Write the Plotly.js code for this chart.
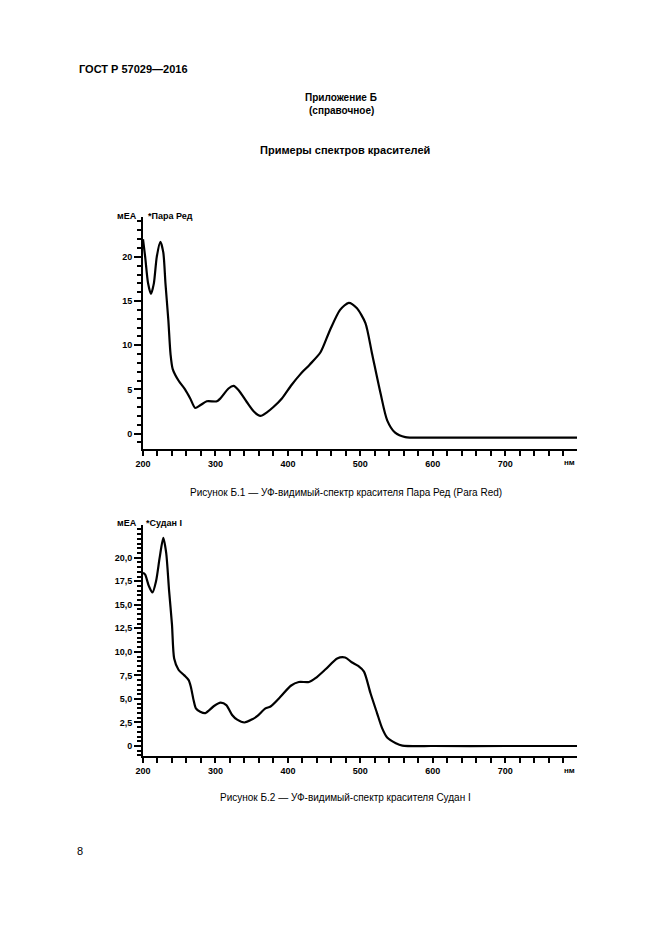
<!DOCTYPE html>
<html>
<head>
<meta charset="utf-8">
<script src="https://cdn.plot.ly/plotly-3.0.1.min.js"></script>
<style>html,body{margin:0;padding:0;background:#fff;}#chart{width:661px;height:935px;}</style>
</head>
<body>
<div id="chart"></div>
<script>
// ---- Data: Para Red spectrum (nm, mEA) ----
const paraRedNm = [200,203,207,211,215,219,224,228,231,235,238,241,249,258,265,272,279,288,302,307,318,325,332,343,353,362,371,380,392,405,417,430,445,458,472,484,495,507,516,528,537,548,562,600,700,800];
const paraRedAbs = [22.0,20.0,17.0,15.8,17.0,20.0,21.7,20.5,17.0,12.8,9.0,7.3,6.0,5.0,4.0,2.9,3.2,3.65,3.65,4.0,5.1,5.4,4.9,3.6,2.5,2.0,2.4,3.0,4.0,5.5,6.7,7.8,9.2,11.7,14.0,14.8,14.2,12.5,9.1,4.5,1.5,0.1,-0.4,-0.45,-0.45,-0.45];

// ---- Data: Sudan I spectrum (nm, mEA) ----
const sudanNm = [200,203,208,213,218,223,228,232,236,240,243,249,257,263,266,270,273,279,286,298,307,315,323,330,340,351,358,369,376,390,404,415,429,438,452,468,479,488,497,505,514,523,530,537,549,558,600,700,800];
const sudanAbs = [18.4,18.2,17.0,16.3,17.5,20.0,22.1,20.5,16.5,12.9,9.3,8.1,7.5,7.0,6.3,4.8,4.0,3.65,3.5,4.25,4.6,4.35,3.3,2.8,2.5,2.85,3.2,4.0,4.2,5.25,6.4,6.8,6.8,7.2,8.15,9.3,9.4,8.9,8.5,7.9,5.6,3.5,1.9,0.9,0.3,0.05,0.0,0.0,0.0];

// ---- Tick labels ----
const xTickVals = [200,300,400,500,600,700];
const xTickText = ['200','300','400','500','600','700'];
const y1TickVals = [0,5,10,15,20];
const y1TickText = ['0','5','10','15','20'];
const y2TickVals = [0,2.5,5,7.5,10,12.5,15,17.5,20];
const y2TickText = ['0','2,5','5,0','7,5','10,0','12,5','15,0','17,5','20,0'];

// ---- Texts ----
const docCode = 'ГОСТ Р 57029—2016';
const appendixTitle = 'Приложение Б';
const appendixNote = '(справочное)';
const sectionTitle = 'Примеры спектров красителей';
const caption1 = 'Рисунок Б.1 — УФ-видимый-спектр красителя Пара Ред (Para Red)';
const caption2 = 'Рисунок Б.2 — УФ-видимый-спектр красителя Судан I';
const label1 = '*Пара Ред';
const label2 = '*Судан I';
const yUnit = 'мЕА';
const xUnit = 'нм';
const pageNum = '8';

const W = 661, H = 935;
const px = x => x / W;
const py = y => 1 - y / H;
const FONT = 'Liberation Sans, Arial, sans-serif';
const bold = t => '<b>' + t + '</b>';

function ann(text, x, y, size, isBold, xanchor) {
  return {
    text: isBold ? bold(text) : text,
    x: px(x), y: py(y), xref: 'paper', yref: 'paper',
    xanchor: xanchor || 'left', yanchor: 'middle',
    showarrow: false,
    font: {family: FONT, size: size, color: '#000'}
  };
}

const tickFont = {family: FONT, size: 9, color: '#000'};
const XR = [200, 799];
const Y1R = [-1.78, 24.54];
const Y2R = [-1.06, 23.47];
const XDOM = [px(143), px(577)];
const Y1DOM = [py(449.3), py(216.7)];
const Y2DOM = [py(756), py(525)];

function xAx(anchor) {
  return {
    domain: XDOM, anchor: anchor, range: XR,
    showline: true, linewidth: 2, linecolor: '#000',
    showgrid: false, zeroline: false,
    ticks: 'outside', ticklen: 5, tickwidth: 2, tickcolor: '#000',
    tickmode: 'array', tickvals: xTickVals, ticktext: xTickText.map(bold),
    tickfont: tickFont,
    minor: {ticks: 'outside', tickmode: 'linear', tick0: 200, dtick: 20, ticklen: 5, tickwidth: 2, tickcolor: '#000'}
  };
}
function yAx(anchor, dom, rng, vals, texts, step) {
  return {
    domain: dom, anchor: anchor, range: rng,
    showline: true, linewidth: 2, linecolor: '#000',
    showgrid: false, zeroline: false,
    ticks: 'outside', ticklen: 7, tickwidth: 2, tickcolor: '#000',
    tickmode: 'array', tickvals: vals, ticktext: texts.map(bold),
    tickfont: tickFont,
    minor: {ticks: 'outside', tickmode: 'linear', tick0: 0, dtick: step, ticklen: 4, tickwidth: 2, tickcolor: '#000'}
  };
}

const lineStyle = {color: '#000', width: 2.2, shape: 'spline', smoothing: 0.7};
const data = [
  {x: paraRedNm, y: paraRedAbs, xaxis: 'x', yaxis: 'y', mode: 'lines', line: lineStyle},
  {x: sudanNm, y: sudanAbs, xaxis: 'x2', yaxis: 'y2', mode: 'lines', line: lineStyle}
];

const layout = {
  width: W, height: H,
  margin: {l: 0, r: 0, t: 0, b: 0},
  showlegend: false,
  xaxis: xAx('y'),
  yaxis: yAx('x', Y1DOM, Y1R, y1TickVals, y1TickText, 1),
  xaxis2: xAx('y2'),
  yaxis2: yAx('x2', Y2DOM, Y2R, y2TickVals, y2TickText, 0.5),
  annotations: [
    ann(docCode, 77, 69, 11, true, 'left'),
    ann(appendixTitle, 341, 97, 10, true, 'center'),
    ann(appendixNote, 341, 110, 10, true, 'center'),
    ann(sectionTitle, 345, 150, 11, true, 'center'),
    ann(yUnit, 139, 216, 9, true, 'right'),
    ann(label1, 146, 216, 9, true, 'left'),
    ann(xUnit, 577, 462, 8, true, 'right'),
    ann(caption1, 346, 492, 10, false, 'center'),
    ann(yUnit, 139, 523, 9, true, 'right'),
    ann(label2, 144, 523, 9, true, 'left'),
    ann(xUnit, 577, 770, 8, true, 'right'),
    ann(caption2, 345, 797, 10, false, 'center'),
    ann(pageNum, 80, 851, 11, false, 'center')
  ]
};

Plotly.newPlot('chart', data, layout, {displayModeBar: false});
</script>
</body>
</html>
